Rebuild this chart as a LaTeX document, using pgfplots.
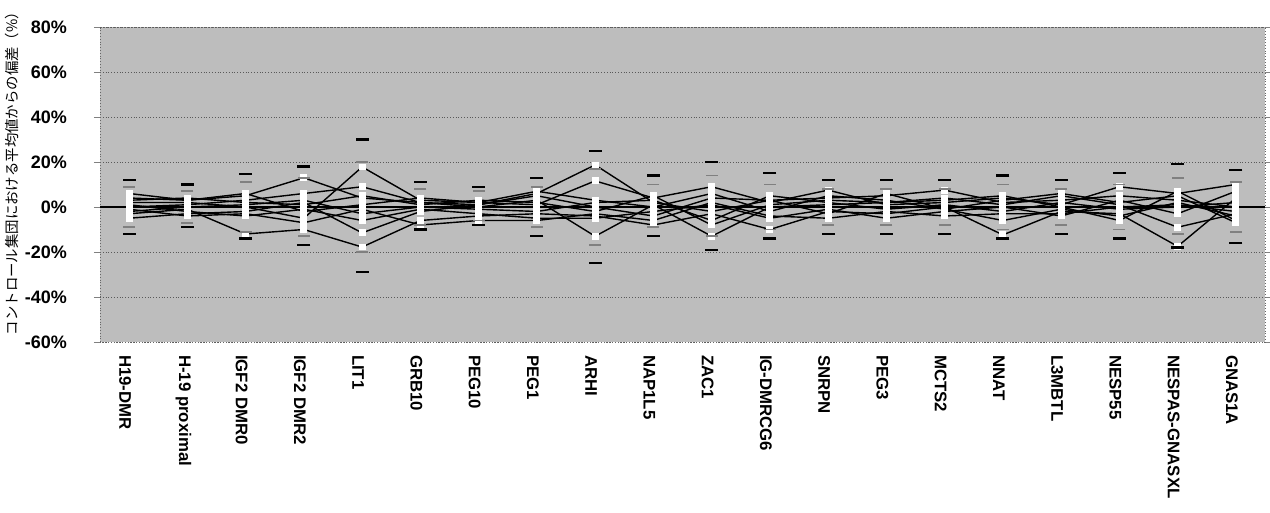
\documentclass[border=0pt]{standalone}
\usepackage{fontspec}
\setmainfont{Liberation Sans}
\newfontfamily\jp{Noto Sans CJK JP}
\usepackage{pgfplots}
\usepackage{pgfplotstable}
\pgfplotsset{compat=1.18}
\pgfplotstableread{
x A B C D E F G H I J U3 L3 U2 L2
0 6 2 -3 0 -5 4 -2 1 3 -1 12 -12 9 -9
1 3 2 -1 1 -3 3 0 -2 4 -4 10 -9 7 -7
2 5 0 -12 3 -2 6 1 -4 2 -3 14.6 -14 11 -11
3 13 -5 -10 6 2 -2 3 -1 1 -7 18 -17 13 -13
4 4 17.8 -17.8 9 -11.5 1 -3 -6 5 -1 30 -29 20 -20
5 2 3 -6 2 -2 4 0 -1 1 -8 11 -10 8 -8
6 1 2 -4 0 1 2 -1 -3 3 -6 9 -8 7 -6
7 6 1 -3 3 5 7 -2 -5 2 -6 13 -13 9 -9
8 18.7 11.6 -4 -13 0 3 2 -5 -2 -3 25 -25 17 -17
9 2 4 -8 1 -4 0 3 -2 5 -6 14 -13 10 -9
10 -2 9 -3 -13 4 6 -6 1 -8 2 20 -19 14 -13
11 3 2 -10 0 3 -2 5 -5 1 -4 15 -14 10 -10
12 4 7.5 -2 1 -3 5 2 -1 3 -5 12 -12 8 -8
13 5 1 -3 2 6 3 -1 -5 2 -2 12 -12 8 -8
14 7.5 2 0 4 -1 -1 1 -2 3 -4 12 -12 8 -8
15 2 4 -12.4 1 -6 3 -2 0 5 -3 14 -14 10 -10
16 3 1 -2 5 -1 6 2 -4 0 -3 12 -12 8 -8
17 5 9 -3 1 -4 2 -1 3 -6 0 15 -14 10 -10
18 3 6 -17.5 -9 2 5 0 -3 7 1 19 -18 13 -12
19 0 10 4 -3 -4 -7 2 7 -6 -2 16.5 -16 11 -11
}\data
\begin{document}
\begin{tikzpicture}
\useasboundingbox (0,0) rectangle (635pt,256.5pt);
\begin{axis}[
  at={(50pt,85.5pt)}, anchor=south west,
  scale only axis, width=582.5pt, height=157.5pt,
  xmin=-0.5, xmax=19.5, ymin=-60, ymax=80,
  ytick={-60,-40,...,80},
  xtick={0,...,19},
  xticklabels={H19-DMR,H-19 proximal,IGF2 DMR0,IGF2 DMR2,LIT1,GRB10,PEG10,PEG1,ARHI,NAP1L5,ZAC1,IG-DMRCG6,SNRPN,PEG3,MCTS2,NNAT,L3MBTL,NESP55,NESPAS-GNASXL,GNAS1A},
  x tick label style={rotate=-90, anchor=west, font=\bfseries\fontsize{8.4}{10}\selectfont, yshift=-2pt},
  major x tick style={draw=none},
  yticklabel={\pgfmathprintnumber{\tick}\%},
  /pgf/number format/assume math mode=true,
  y tick label style={font=\bfseries\fontsize{9}{10}\selectfont, xshift=-10pt},
  tick align=outside, major tick length=3pt,
  ymajorgrids, major grid style={black!65, densely dotted},
  axis background/.style={fill=black!26},
  axis line style={black!60, densely dotted},
  ylabel={\jp\fontsize{7.2}{8}\selectfont コントロール集団における平均値からの偏差（\%）},
  ylabel style={at={(axis description cs:-0.0755,0.546)}, anchor=center},
  clip=false,
]
\addplot[black, line width=0.6pt, forget plot] coordinates {(-0.5,0) (19.5,0)};
\pgfplotsinvokeforeach{A,B,C,D,E,F,G,H,I,J}{
  \addplot[black, line width=0.7pt, mark=square*, mark size=1.35pt,
    mark options={fill=white, draw=white, solid}] table[x=x, y=#1]{\data};
}
\addplot[only marks, mark=-, mark size=3pt, mark options={black!50, line width=0.9pt}] table[x=x, y=U2]{\data};
\addplot[only marks, mark=-, mark size=3pt, mark options={black!50, line width=0.9pt}] table[x=x, y=L2]{\data};
\addplot[only marks, mark=-, mark size=3.3pt, mark options={black, line width=1.2pt}] table[x=x, y=U3]{\data};
\addplot[only marks, mark=-, mark size=3.3pt, mark options={black, line width=1.2pt}] table[x=x, y=L3]{\data};
\end{axis}
\end{tikzpicture}
\end{document}
